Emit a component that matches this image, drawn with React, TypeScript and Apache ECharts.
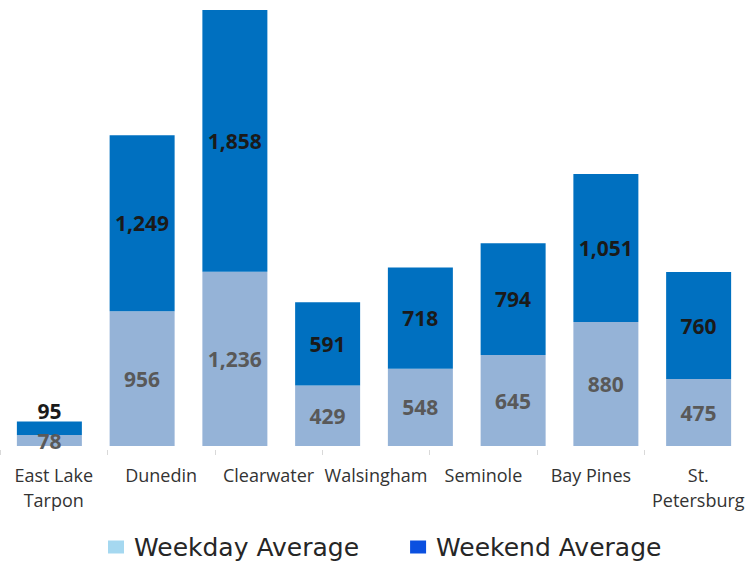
import React, { useEffect, useRef } from "react";
import * as echarts from "echarts";

const barCategories = ["East Lake Tarpon", "Dunedin", "Clearwater", "Walsingham", "Seminole", "Bay Pines", "St. Petersburg", "Extra"];
const axisLabels = ["East Lake\nTarpon", "Dunedin", "Clearwater", "Walsingham", "Seminole", "Bay Pines", "St.\nPetersburg"];
const weekday = [78, 956, 1236, 429, 548, 645, 880, 475];
const weekend = [95, 1249, 1858, 591, 718, 794, 1051, 760];
const yMax = 3094;

export default function App() {
  const ref = useRef<HTMLDivElement>(null);
  useEffect(() => {
    if (!ref.current) return;
    const chart = echarts.init(ref.current, undefined, { renderer: "svg" });
    const fmt = (v: number) => v.toLocaleString("en-US");
    chart.setOption({
      animation: false,
      backgroundColor: "#ffffff",
      grid: [
        { left: 3, width: 742, top: 10, height: 436 },
        { left: -1.4, width: 758.8, top: 10, height: 440 },
      ],
      xAxis: [
        {
          type: "category",
          gridIndex: 0,
          data: barCategories,
          axisLine: { show: false },
          axisTick: { show: false },
          axisLabel: { show: false },
        },
        {
          type: "category",
          gridIndex: 1,
          data: axisLabels,
          axisLine: { show: false },
          axisTick: { show: true, length: 5, lineStyle: { color: "#d9d9d9", width: 1 } },
          axisLabel: {
            show: true,
            interval: 0,
            margin: 12,
            fontFamily: "Open Sans",
            fontSize: 18,
            lineHeight: 25,
            color: "#333333",
          },
        },
      ],
      yAxis: [
        { type: "value", gridIndex: 0, min: 0, max: yMax, show: false, splitLine: { show: false } },
        { type: "value", gridIndex: 1, min: 0, max: 1, show: false, splitLine: { show: false } },
      ],
      legend: {
        left: 108,
        top: 533,
        padding: 0,
        itemWidth: 16,
        itemHeight: 13,
        itemGap: 51,
        icon: "rect",
        textStyle: {
          fontFamily: "DejaVu Sans",
          fontSize: 25,
          lineHeight: 28,
          color: "#262626",
          padding: [0, 0, 0, 5],
        },
        data: [
          { name: "Weekday Average", itemStyle: { color: "#a5d8f0" } },
          { name: "Weekend Average", itemStyle: { color: "#0b50e0" } },
        ],
      },
      series: [
        {
          name: "Weekday Average",
          type: "bar",
          stack: "total",
          xAxisIndex: 0,
          yAxisIndex: 0,
          barWidth: 65,
          data: weekday,
          itemStyle: { color: "#95b3d7" },
          label: {
            show: true,
            position: "inside",
            formatter: (p: any) => fmt(p.value),
            fontFamily: "Open Sans",
            fontWeight: "bold",
            fontSize: 21,
            color: "#595959",
          },
        },
        {
          name: "Weekend Average",
          type: "bar",
          stack: "total",
          xAxisIndex: 0,
          yAxisIndex: 0,
          barWidth: 65,
          data: weekend.map((v, i) =>
            i === 0 ? { value: v, label: { position: "top", distance: 0 } } : v
          ),
          itemStyle: { color: "#0070c0" },
          label: {
            show: true,
            position: "inside",
            formatter: (p: any) => fmt(p.value),
            fontFamily: "Open Sans",
            fontWeight: "bold",
            fontSize: 21,
            color: "#1a1a1a",
          },
        },
      ],
    });
    return () => chart.dispose();
  }, []);
  return (
    <div
      ref={ref}
      style={{ position: "absolute", left: 0, top: 0, width: 752, height: 561 }}
    />
  );
}
